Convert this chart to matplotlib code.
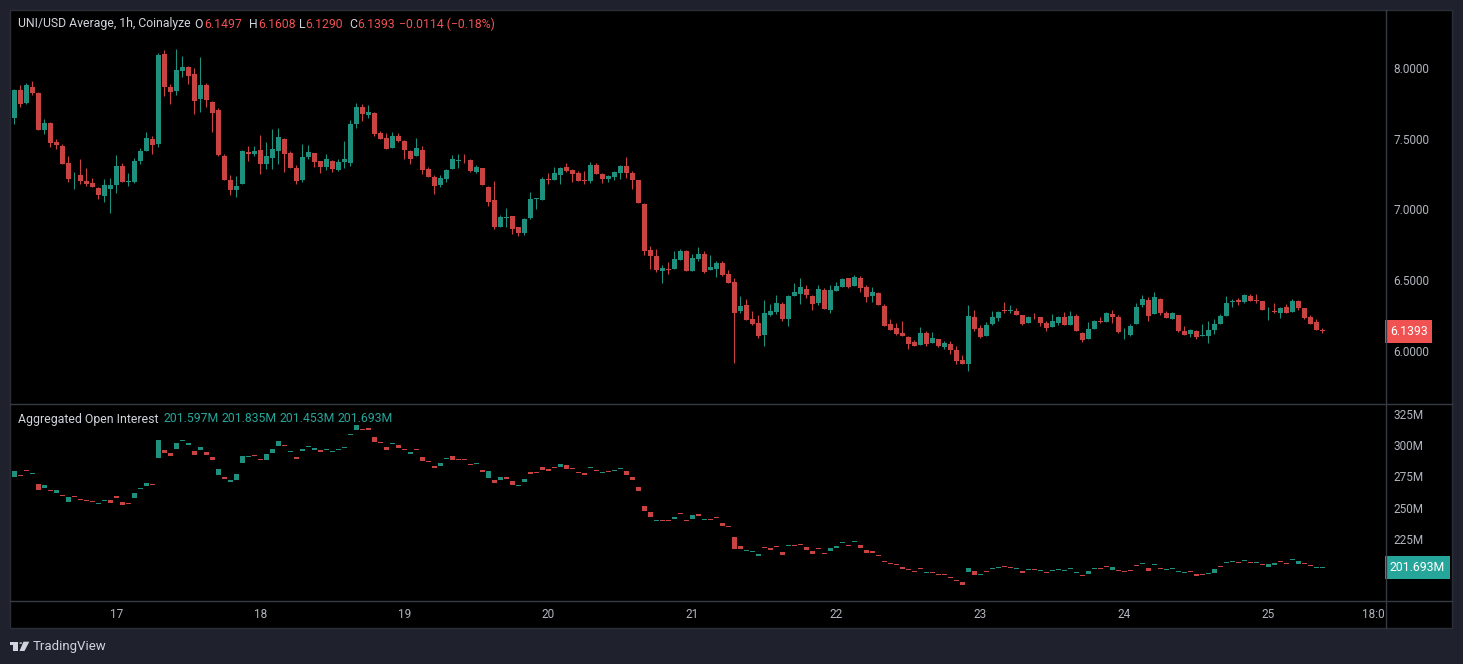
import matplotlib
matplotlib.use("Agg")
import matplotlib.pyplot as plt
from matplotlib.lines import Line2D
from matplotlib.patches import Rectangle, Polygon, Circle
from matplotlib.transforms import blended_transform_factory
import numpy as np

plt.rcParams['font.family'] = ['Roboto', 'DejaVu Sans']

# hourly candles, 16th 07:00 -> 25th 09:00
price_open = [
    7.649, 7.845, 7.753, 7.866, 7.826, 7.564, 7.611, 7.477, 7.449, 7.329,
    7.227, 7.244, 7.202, 7.185, 7.152, 7.098, 7.147, 7.176, 7.308, 7.197,
    7.197, 7.345, 7.414, 7.498, 7.465, 8.099, 7.866, 7.838, 7.979, 8.007,
    7.958, 7.781, 7.880, 7.760, 7.703, 7.378, 7.209, 7.140, 7.183, 7.404,
    7.392, 7.421, 7.324, 7.366, 7.414, 7.499, 7.400, 7.294, 7.211, 7.372,
    7.400, 7.343, 7.301, 7.343, 7.280, 7.336, 7.329, 7.605, 7.725, 7.668,
    7.682, 7.541, 7.506, 7.435, 7.520, 7.485, 7.414, 7.379, 7.421, 7.287,
    7.230, 7.176, 7.218, 7.287, 7.346, 7.353, 7.350, 7.266, 7.294, 7.160,
    7.068, 6.879, 6.943, 6.955, 6.877, 6.837, 6.943, 7.072, 7.068, 7.216,
    7.208, 7.244, 7.300, 7.279, 7.258, 7.208, 7.201, 7.314, 7.251, 7.215,
    7.230, 7.258, 7.307, 7.258, 7.208, 7.039, 6.714, 6.671, 6.565, 6.582,
    6.579, 6.643, 6.707, 6.565, 6.650, 6.685, 6.572, 6.579, 6.622, 6.544,
    6.487, 6.283, 6.325, 6.226, 6.198, 6.113, 6.254, 6.275, 6.332, 6.226,
    6.389, 6.403, 6.438, 6.389, 6.339, 6.431, 6.290, 6.424, 6.452, 6.516,
    6.459, 6.516, 6.452, 6.389, 6.410, 6.318, 6.191, 6.162, 6.127, 6.099,
    6.063, 6.042, 6.127, 6.056, 6.085, 6.028, 6.049, 6.007, 5.936, 5.908,
    6.240, 6.162, 6.106, 6.191, 6.233, 6.290, 6.285, 6.283, 6.254, 6.198,
    6.242, 6.240, 6.198, 6.170, 6.198, 6.240, 6.184, 6.247, 6.127, 6.085,
    6.155, 6.212, 6.205, 6.261, 6.240, 6.124, 6.113, 6.190, 6.325, 6.360,
    6.263, 6.367, 6.268, 6.226, 6.254, 6.141, 6.120, 6.141, 6.108, 6.106,
    6.148, 6.190, 6.247, 6.346, 6.360, 6.346, 6.388, 6.360, 6.353, 6.287,
    6.280, 6.268, 6.311, 6.275, 6.353, 6.303, 6.240, 6.205, 6.1497,
]
price_high = [
    7.852, 7.880, 7.896, 7.908, 7.833, 7.640, 7.621, 7.498, 7.463, 7.378,
    7.265, 7.357, 7.293, 7.223, 7.161, 7.216, 7.223, 7.385, 7.326, 7.256,
    7.362, 7.432, 7.545, 7.517, 8.104, 8.127, 7.887, 8.134, 8.085, 8.014,
    8.000, 8.078, 7.894, 7.767, 7.717, 7.392, 7.244, 7.237, 7.421, 7.449,
    7.449, 7.527, 7.477, 7.571, 7.576, 7.503, 7.414, 7.315, 7.463, 7.456,
    7.400, 7.343, 7.393, 7.350, 7.357, 7.485, 7.633, 7.753, 7.746, 7.739,
    7.690, 7.555, 7.541, 7.548, 7.541, 7.492, 7.421, 7.506, 7.449, 7.301,
    7.244, 7.244, 7.287, 7.386, 7.393, 7.393, 7.357, 7.315, 7.294, 7.167,
    7.202, 6.962, 7.011, 6.955, 6.877, 6.940, 7.124, 7.082, 7.230, 7.258,
    7.300, 7.300, 7.328, 7.286, 7.272, 7.272, 7.336, 7.328, 7.258, 7.244,
    7.272, 7.314, 7.371, 7.272, 7.208, 7.046, 6.742, 6.721, 6.608, 6.629,
    6.707, 6.721, 6.714, 6.685, 6.735, 6.707, 6.678, 6.636, 6.636, 6.572,
    6.516, 6.389, 6.367, 6.283, 6.254, 6.360, 6.332, 6.396, 6.346, 6.396,
    6.480, 6.516, 6.466, 6.396, 6.466, 6.445, 6.466, 6.488, 6.516, 6.516,
    6.537, 6.530, 6.466, 6.452, 6.417, 6.332, 6.226, 6.198, 6.212, 6.106,
    6.078, 6.170, 6.141, 6.134, 6.085, 6.071, 6.071, 6.035, 5.972, 6.325,
    6.290, 6.184, 6.205, 6.283, 6.283, 6.346, 6.325, 6.304, 6.254, 6.247,
    6.268, 6.240, 6.212, 6.261, 6.247, 6.276, 6.283, 6.261, 6.134, 6.205,
    6.219, 6.240, 6.275, 6.289, 6.254, 6.162, 6.190, 6.339, 6.395, 6.381,
    6.417, 6.374, 6.282, 6.275, 6.254, 6.176, 6.155, 6.148, 6.190, 6.212,
    6.226, 6.261, 6.388, 6.367, 6.374, 6.402, 6.402, 6.402, 6.353, 6.311,
    6.339, 6.311, 6.332, 6.367, 6.360, 6.303, 6.254, 6.226, 6.1608,
]
price_low = [
    7.607, 7.727, 7.746, 7.809, 7.564, 7.536, 7.444, 7.430, 7.324, 7.197,
    7.147, 7.180, 7.166, 7.161, 7.077, 7.055, 6.978, 7.119, 7.197, 7.169,
    7.187, 7.324, 7.414, 7.392, 7.444, 7.802, 7.746, 7.809, 7.939, 7.889,
    7.677, 7.692, 7.727, 7.550, 7.378, 7.211, 7.105, 7.091, 7.183, 7.345,
    7.378, 7.253, 7.289, 7.289, 7.324, 7.268, 7.296, 7.183, 7.197, 7.357,
    7.303, 7.261, 7.282, 7.268, 7.273, 7.296, 7.308, 7.579, 7.628, 7.647,
    7.522, 7.499, 7.428, 7.435, 7.478, 7.357, 7.322, 7.379, 7.251, 7.230,
    7.112, 7.162, 7.197, 7.287, 7.296, 7.329, 7.266, 7.258, 7.176, 7.028,
    6.865, 6.879, 6.879, 6.830, 6.816, 6.823, 6.936, 7.004, 7.068, 7.181,
    7.208, 7.180, 7.265, 7.194, 7.201, 7.180, 7.187, 7.253, 7.187, 7.194,
    7.208, 7.215, 7.222, 7.145, 7.046, 6.678, 6.579, 6.558, 6.480, 6.544,
    6.579, 6.643, 6.565, 6.565, 6.636, 6.551, 6.572, 6.523, 6.530, 6.480,
    5.915, 6.268, 6.219, 6.184, 6.092, 6.035, 6.247, 6.261, 6.212, 6.177,
    6.389, 6.332, 6.374, 6.290, 6.325, 6.297, 6.268, 6.424, 6.452, 6.445,
    6.459, 6.417, 6.346, 6.346, 6.325, 6.177, 6.148, 6.113, 6.106, 6.014,
    6.035, 6.042, 6.035, 6.056, 6.028, 6.014, 5.979, 5.908, 5.908, 5.859,
    6.141, 6.092, 6.106, 6.184, 6.212, 6.268, 6.268, 6.254, 6.184, 6.198,
    6.226, 6.177, 6.141, 6.170, 6.184, 6.184, 6.184, 6.141, 6.063, 6.085,
    6.155, 6.197, 6.205, 6.197, 6.127, 6.084, 6.106, 6.190, 6.311, 6.212,
    6.263, 6.254, 6.233, 6.226, 6.134, 6.113, 6.099, 6.084, 6.106, 6.056,
    6.120, 6.190, 6.247, 6.311, 6.325, 6.339, 6.353, 6.339, 6.289, 6.219,
    6.268, 6.233, 6.268, 6.275, 6.289, 6.226, 6.190, 6.148, 6.1290,
]
price_close = [
    7.845, 7.746, 7.880, 7.826, 7.564, 7.611, 7.472, 7.456, 7.324, 7.218,
    7.232, 7.204, 7.180, 7.161, 7.105, 7.173, 7.173, 7.308, 7.197, 7.202,
    7.343, 7.414, 7.505, 7.456, 8.092, 7.868, 7.833, 7.986, 8.007, 7.946,
    7.767, 7.880, 7.774, 7.684, 7.385, 7.211, 7.140, 7.166, 7.414, 7.395,
    7.414, 7.324, 7.378, 7.428, 7.513, 7.393, 7.296, 7.204, 7.372, 7.407,
    7.339, 7.301, 7.357, 7.287, 7.336, 7.357, 7.605, 7.725, 7.675, 7.690,
    7.536, 7.499, 7.428, 7.520, 7.485, 7.421, 7.357, 7.435, 7.280, 7.230,
    7.169, 7.223, 7.280, 7.357, 7.353, 7.348, 7.273, 7.301, 7.176, 7.056,
    6.879, 6.948, 6.948, 6.865, 6.837, 6.933, 7.075, 7.079, 7.216, 7.209,
    7.258, 7.293, 7.272, 7.251, 7.201, 7.203, 7.314, 7.253, 7.215, 7.237,
    7.265, 7.307, 7.258, 7.208, 7.046, 6.707, 6.671, 6.572, 6.586, 6.575,
    6.650, 6.707, 6.565, 6.657, 6.685, 6.558, 6.593, 6.622, 6.537, 6.480,
    6.268, 6.318, 6.219, 6.191, 6.106, 6.268, 6.283, 6.339, 6.226, 6.389,
    6.417, 6.452, 6.396, 6.332, 6.438, 6.297, 6.431, 6.459, 6.509, 6.452,
    6.523, 6.445, 6.382, 6.417, 6.325, 6.177, 6.148, 6.120, 6.106, 6.049,
    6.035, 6.127, 6.049, 6.092, 6.035, 6.056, 6.007, 5.929, 5.908, 6.247,
    6.155, 6.099, 6.184, 6.240, 6.276, 6.283, 6.290, 6.254, 6.191, 6.240,
    6.238, 6.198, 6.162, 6.212, 6.240, 6.184, 6.247, 6.141, 6.078, 6.155,
    6.212, 6.205, 6.268, 6.240, 6.134, 6.129, 6.176, 6.311, 6.367, 6.247,
    6.381, 6.268, 6.233, 6.268, 6.141, 6.113, 6.148, 6.099, 6.113, 6.148,
    6.190, 6.247, 6.339, 6.353, 6.346, 6.395, 6.353, 6.355, 6.289, 6.292,
    6.275, 6.303, 6.268, 6.353, 6.303, 6.233, 6.190, 6.148, 6.1393,
]
price_change = -0.0114
price_change_pct = -0.18

# aggregated open interest, millions
oi_open = [
    274.8, 275.5, 279.2, 277.3, 268.6, 266.0, 263.2, 262.0, 259.4, 254.8,
    259.0, 256.9, 255.2, 254.3, 253.1, 255.2, 255.8, 259.6, 254.2, 253.0,
    258.0, 264.8, 267.6, 268.2, 290.0, 296.1, 293.7, 297.0, 303.5, 300.4,
    295.4, 296.2, 294.5, 290.8, 276.1, 274.5, 270.5, 272.4, 285.5, 290.8,
    291.4, 288.5, 288.4, 294.0, 299.4, 299.3, 294.8, 290.6, 295.4, 298.3,
    296.2, 296.4, 296.3, 294.2, 296.3, 297.4, 308.1, 312.2, 312.5, 313.5,
    306.3, 301.6, 298.6, 300.6, 300.2, 295.9, 293.2, 296.5, 290.5, 286.3,
    283.6, 283.6, 288.9, 291.1, 288.5, 288.4, 284.9, 284.9, 280.4, 273.7,
    272.4, 272.4, 274.5, 271.3, 267.3, 270.5, 278.5, 277.5, 282.5, 280.9,
    281.5, 282.8, 284.1, 280.7, 277.5, 277.8, 281.4, 279.1, 277.6, 278.3,
    279.0, 280.6, 279.3, 274.5, 266.5, 251.3, 246.5, 239.2, 239.3, 239.0,
    240.9, 244.6, 239.0, 240.9, 244.9, 239.7, 239.8, 241.4, 237.7, 234.5,
    226.4, 219.2, 215.1, 214.3, 211.5, 217.4, 217.9, 218.2, 214.4, 218.9,
    219.3, 220.1, 218.2, 215.2, 216.9, 212.6, 215.5, 217.9, 221.3, 219.3,
    222.1, 220.0, 216.0, 214.9, 211.0, 206.2, 204.6, 203.8, 202.4, 199.8,
    198.2, 200.8, 197.6, 198.0, 195.8, 195.8, 193.4, 191.5, 190.4, 198.7,
    198.9, 195.7, 198.2, 200.5, 201.3, 202.2, 201.4, 200.5, 198.9, 199.7,
    199.8, 198.9, 197.4, 198.9, 199.7, 198.9, 200.5, 197.3, 196.3, 197.0,
    200.5, 200.6, 202.2, 200.3, 199.0, 198.2, 199.0, 203.0, 204.5, 201.6,
    203.7, 200.6, 199.7, 201.0, 198.1, 197.3, 198.2, 196.8, 195.8, 196.5,
    197.9, 202.2, 205.4, 206.1, 205.4, 207.0, 205.4, 205.3, 203.8, 202.7,
    204.0, 206.2, 204.6, 207.7, 204.8, 204.6, 203.0, 201.3, 201.597,
]
oi_close = [
    279.3, 275.3, 279.0, 277.5, 264.4, 268.1, 263.0, 264.1, 259.2, 258.5,
    258.8, 255.8, 255.0, 254.2, 253.2, 255.3, 253.7, 257.4, 252.4, 252.9,
    261.7, 264.9, 269.7, 268.1, 304.2, 294.0, 291.6, 301.8, 303.6, 302.0,
    292.4, 298.6, 292.4, 288.4, 280.7, 273.2, 272.1, 276.9, 291.1, 290.9,
    291.3, 288.4, 292.7, 297.0, 303.6, 299.1, 294.9, 289.2, 297.2, 298.4,
    297.8, 294.3, 296.4, 294.3, 296.4, 297.5, 308.2, 316.2, 312.3, 311.9,
    302.8, 301.5, 296.4, 300.7, 298.0, 295.8, 294.8, 296.4, 287.6, 286.2,
    282.0, 285.8, 289.0, 287.9, 288.4, 288.3, 283.9, 285.0, 278.8, 279.3,
    270.0, 274.5, 273.2, 268.4, 267.4, 272.9, 276.9, 277.4, 280.4, 279.3,
    281.4, 284.9, 281.2, 280.6, 277.4, 276.1, 281.5, 279.0, 277.7, 278.2,
    279.1, 280.7, 276.4, 272.1, 263.6, 247.5, 242.5, 239.3, 239.2, 238.9,
    242.5, 244.5, 238.9, 244.1, 243.3, 239.8, 239.7, 241.3, 235.3, 234.4,
    216.8, 216.8, 215.2, 214.4, 213.1, 217.3, 216.3, 218.1, 212.3, 219.0,
    219.2, 220.0, 216.3, 213.1, 216.8, 212.5, 217.6, 219.2, 221.4, 219.2,
    222.2, 217.9, 213.9, 213.9, 210.9, 206.1, 204.5, 203.7, 201.1, 199.7,
    198.1, 200.7, 197.7, 197.9, 195.7, 195.7, 193.3, 191.4, 188.2, 201.6,
    196.3, 195.8, 198.1, 200.6, 201.4, 202.1, 201.3, 200.6, 197.9, 199.8,
    199.7, 199.0, 197.3, 199.0, 199.8, 199.0, 200.6, 197.4, 194.9, 198.9,
    200.6, 200.5, 202.1, 202.1, 198.9, 198.1, 198.9, 202.9, 204.6, 199.2,
    203.8, 200.5, 199.8, 201.1, 198.2, 197.4, 198.1, 195.4, 195.7, 196.6,
    200.5, 202.1, 205.5, 206.2, 205.3, 207.1, 205.3, 205.4, 203.7, 204.8,
    205.3, 206.1, 204.5, 207.8, 206.9, 204.5, 202.9, 201.4, 201.693,
]
oi_last = [201.597, 201.835, 201.453, 201.693]   # O H L C of last bar

price_ticks = [6.0, 6.5, 7.0, 7.5, 8.0]
oi_ticks = [225, 250, 275, 300, 325]
day_labels = ['17', '18', '19', '20', '21', '22', '23', '24', '25', '18:00']
day_pos = [17, 41, 65, 89, 113, 137, 161, 185, 209, 227]   # candle index

BG = '#1f222c'
SEP = '#363a45'
TXT = '#d1d4dc'
AX_TXT = '#b2b5be'
GREEN = '#1f8f7e'
RED = '#c94343'
RED_HI = '#f05252'
TEAL_HI = '#26a69a'
HEAD_FS = 8.8

W, H = 1463, 664


def fx(x):
    return x / W


def fy(y):
    return 1 - y / H


def px_rect(x0, y0, x1, y1):
    return [fx(x0), fy(y1), (x1 - x0) / W, (y1 - y0) / H]


def draw_candles(ax, o, c, h=None, l=None, min_body=0.0):
    o = np.asarray(o)
    c = np.asarray(c)
    x = np.arange(len(o))
    colors = np.where(c >= o, GREEN, RED)
    if h is not None:
        ax.vlines(x, l, h, colors=colors, lw=0.8)
    body = np.maximum(np.abs(c - o), min_body)
    ax.bar(x, body, bottom=np.minimum(o, c), width=0.8, color=colors,
           linewidth=0)


def style_pane(ax):
    ax.set_facecolor('none')
    for s in ax.spines.values():
        s.set_visible(False)
    ax.set_xticks([])
    ax.yaxis.tick_right()
    ax.tick_params(axis='y', length=0, pad=6, labelcolor=AX_TXT,
                   labelsize=8.5)
    ax.set_xlim(-0.72, 228.45)


fig = plt.figure(figsize=(W / 100, H / 100), dpi=100, facecolor=BG)
fig.patches.append(Rectangle((fx(10), fy(628)), 1442 / W, 618 / H,
                             transform=fig.transFigure, fc='black',
                             ec='#2a2e39', lw=1, zorder=-10))

# price pane
ax = fig.add_axes(px_rect(10, 10, 1385, 403))
style_pane(ax)
draw_candles(ax, price_open, price_close, price_high, price_low,
             min_body=0.0015)
ax.set_ylim(5.632, 8.410)
ax.set_yticks(price_ticks, [f'{v:.4f}' for v in price_ticks])
tr = blended_transform_factory(ax.transAxes, ax.transData)
ax.text(1.0035, price_close[-1], f'{price_close[-1]:.4f}', transform=tr,
        ha='left', va='center', color='white', fontsize=8.8,
        bbox=dict(boxstyle='square,pad=0.4', fc=RED_HI, ec='none'))

# open interest pane
ax2 = fig.add_axes(px_rect(10, 404, 1385, 600))
style_pane(ax2)
draw_candles(ax2, oi_open, oi_close, min_body=0.8)
ax2.set_ylim(175.96, 333.0)
ax2.set_yticks(oi_ticks, [f'{v}M' for v in oi_ticks])
tr2 = blended_transform_factory(ax2.transAxes, ax2.transData)
ax2.text(1.0035, oi_close[-1], f'{oi_close[-1]:.3f}M', transform=tr2,
         ha='left', va='center', color='white', fontsize=8.8,
         bbox=dict(boxstyle='square,pad=0.4', fc=TEAL_HI, ec='none'))

# time axis strip
tax = fig.add_axes(px_rect(10, 601, 1385, 628))
tax.set_facecolor('none')
tax.axis('off')
tax.set_xlim(-0.72, 228.45)
tax.set_ylim(0, 1)
for p, lab in zip(day_pos, day_labels):
    tax.text(p, 0.5, lab, ha='center', va='center', color=AX_TXT,
             fontsize=8.5, clip_on=True)

# separators
for xs, ys in [((10, 1452), (403.5, 403.5)), ((10, 1452), (601, 601)),
               ((1385.5, 1385.5), (10, 628))]:
    fig.add_artist(Line2D([fx(xs[0]), fx(xs[1])], [fy(ys[0]), fy(ys[1])],
                          transform=fig.transFigure, color=SEP, lw=1))

# legends
y_head = fy(24)
fig.text(fx(18), y_head, 'UNI/USD Average, 1h, Coinalyze', color=TXT,
         fontsize=HEAD_FS, va='center')
ohlc = [('O', 194, price_open[-1], 204), ('H', 249, price_high[-1], 258),
        ('L', 299, price_low[-1], 305), ('C', 349, price_close[-1], 357)]
for k, xk, v, xv in ohlc:
    fig.text(fx(xk), y_head, k, color=TXT, fontsize=HEAD_FS, va='center')
    fig.text(fx(xv), y_head, f'{v:.4f}', color=RED_HI, fontsize=HEAD_FS,
             va='center')
fig.text(fx(399), y_head,
         f'\u2212{abs(price_change):.4f} (\u2212{abs(price_change_pct):.2f}%)',
         color=RED_HI, fontsize=HEAD_FS, va='center')

y_oi = fy(419)
fig.text(fx(18), y_oi, 'Aggregated Open Interest', color=TXT,
         fontsize=HEAD_FS, va='center')
for xv, v in zip([163, 221, 279, 337], oi_last):
    fig.text(fx(xv), y_oi, f'{v:.3f}M', color=TEAL_HI, fontsize=HEAD_FS,
             va='center')

# TradingView mark
fig.patches.append(Polygon([(fx(10), fy(641.7)), (fx(18.3), fy(641.7)),
                            (fx(18.3), fy(651)), (fx(13.5), fy(651)),
                            (fx(13.5), fy(644.5)), (fx(10), fy(644.5))],
                           closed=True, transform=fig.transFigure,
                           fc=TXT, ec='none'))
fig.patches.append(Circle((fx(20.8), fy(643.1)), 1.5 / W,
                          transform=fig.transFigure, fc=TXT, ec='none'))
fig.patches.append(Polygon([(fx(23.5), fy(641.7)), (fx(29.3), fy(641.7)),
                            (fx(24.5), fy(651)), (fx(19.5), fy(651))],
                           closed=True, transform=fig.transFigure,
                           fc=TXT, ec='none'))
fig.text(fx(33), fy(646.5), 'TradingView', color=TXT, fontsize=9.5,
         va='center')

fig.savefig('out.png', dpi=100, facecolor=BG)
